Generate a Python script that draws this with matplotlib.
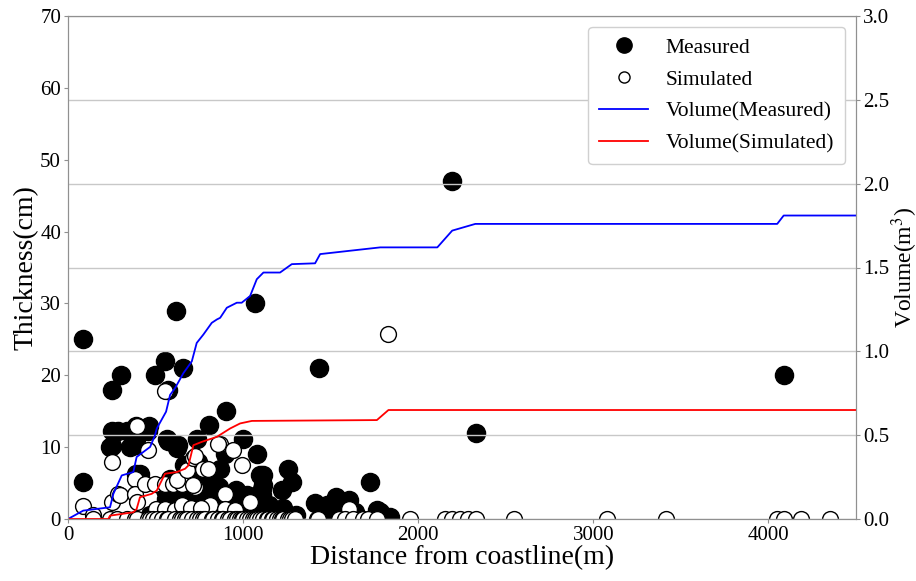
import matplotlib
matplotlib.use("Agg")
import matplotlib.pyplot as plt
from matplotlib.lines import Line2D
import numpy as np

plt.rcParams['font.family'] = ['Liberation Serif', 'DejaVu Serif']
plt.rcParams['mathtext.fontset'] = 'stix'

# measured thickness (distance m, thickness cm)
meas_x = [84, 84, 250, 303, 250, 288, 250, 240, 335, 392, 421, 459, 389, 465, 389, 389, 354,
          497, 554, 617, 659, 573, 1069, 1434, 2194, 2331, 4086, 903, 808, 567, 573, 621, 630,
          735, 897, 998, 1078, 411, 389, 554, 1116, 1116, 1107, 1259, 1278, 1221, 960, 1040,
          1021, 1411, 1531, 1602, 1516, 1640, 1722, 1764, 1836, 1783,
          700, 720, 740, 760, 780, 790, 810, 830, 850, 860, 880, 700, 760, 820, 680, 650, 600,
          560, 640, 520, 470, 1100, 1150, 1180, 950, 1000, 920, 1050, 1230, 1300, 1450, 1480,
          1097, 1110, 580, 660, 745, 775, 835, 870]
meas_y = [25, 5.2, 18, 20, 12.2, 12.2, 10.2, 10, 12.2, 12.2, 12.5, 12.2, 13, 12.9, 11.2, 10.3, 10,
          20, 22, 28.9, 21, 18, 30, 21, 47, 12, 20, 15, 13.1, 11.2, 10.8, 9.9, 10.3,
          11.2, 9, 11.2, 9.1, 6.3, 6.2, 4, 6.1, 4.7, 3.3, 6.9, 5.1, 4, 4, 3.1,
          3.3, 2.2, 3.1, 2.6, 1.2, 1, 5.1, 1.2, 0.3, 1.0,
          3, 1.5, 4.5, 2.5, 5.5, 1, 3.5, 6, 2, 4.5, 1, 5.5, 0.5, 0.5, 2, 3.5, 1.5,
          2.8, 0.8, 1, 0.5, 1.5, 2, 1, 1, 1.8, 2.5, 0.8, 1.5, 0.5, 0.5, 2,
          6.1, 4.2, 5.5, 7.5, 8, 3, 4, 7]

# simulated thickness above zero
sim_x = [84, 141, 250, 250, 288, 297, 383, 392, 383, 392, 459, 440, 497, 554, 602, 650, 556, 1829,
         621, 678, 716, 726, 773, 802, 726, 716, 869, 859, 945, 992, 897, 1040, 811, 897, 954,
         1602, 500, 554, 611, 650, 700, 760]
sim_y = [1.8, 0.6, 8, 2.4, 3.5, 3.3, 5.6, 13, 3.5, 2.4, 9.6, 4.9, 4.9, 4.9, 4.9, 4.9, 17.8, 25.8,
         5.4, 6.8, 8.5, 8.7, 7, 7, 4.5, 4.7, 10.5, 10.5, 9.6, 7.5, 3.5, 2.4, 1.9, 1.4, 1.2,
         1.4, 1.4, 1.4, 1.2, 2, 1.5, 1.5]
# simulated points with zero thickness
sim_zero_x = [141, 240, 278, 335, 383, 394, 457, 469, 488, 507, 535, 566, 573, 611, 640, 650, 669,
              680, 707, 737, 754, 773, 783, 821, 829, 857, 878, 886, 914, 926, 954, 964, 983, 994,
              1002, 1021, 1040, 1057, 1069, 1080, 1097, 1114, 1135, 1143, 1164, 1171, 1193, 1211,
              1221, 1229, 1259, 1269, 1278, 1297, 1421, 1430, 1545, 1583, 1630, 1687, 1716, 1764,
              1954, 2154, 2193, 2240, 2287, 2331, 2545, 3078, 3417, 4050, 4091, 4187, 4354]

# cumulative volume (m3)
volm_x = [0, 87, 240, 259, 307, 373, 392, 469, 497, 507, 560, 583, 611, 659, 707, 735, 773, 821,
          850, 869, 907, 964, 992, 1040, 1078, 1116, 1211, 1278, 1411, 1440, 1526, 1611, 1783,
          2109, 2194, 2326, 4050, 4087, 4500]
volm_y = [0, 0.05, 0.07, 0.15, 0.26, 0.28, 0.37, 0.43, 0.50, 0.54, 0.64, 0.74, 0.78, 0.87, 0.94,
          1.05, 1.10, 1.17, 1.19, 1.20, 1.26, 1.29, 1.29, 1.33, 1.43, 1.47, 1.47, 1.52, 1.525,
          1.58, 1.59, 1.60, 1.62, 1.62, 1.72, 1.76, 1.76, 1.81, 1.81]
vols_x = [0, 230, 240, 373, 392, 411, 478, 507, 554, 621, 669, 688, 716, 764, 850, 926, 983,
          1050, 1764, 1830, 4500]
vols_y = [0, 0.0, 0.02, 0.04, 0.06, 0.13, 0.15, 0.17, 0.27, 0.28, 0.30, 0.32, 0.44, 0.46, 0.49,
          0.54, 0.57, 0.585, 0.59, 0.65, 0.65]

fig = plt.figure(figsize=(9.16, 5.81), dpi=100)
ax = fig.add_axes([68 / 916, 62 / 581, 788 / 916, 503 / 581])
ax2 = ax.twinx()

ax.scatter(meas_x, meas_y, s=170, c='black', edgecolors='black', linewidths=1, zorder=2)
ax.scatter(sim_x, sim_y, s=130, c='white', edgecolors='black', linewidths=1, zorder=3)
ax.scatter(sim_zero_x, np.zeros(len(sim_zero_x)), s=130, c='white', edgecolors='black',
           linewidths=1, zorder=3)

ax2.plot(volm_x, volm_y, color='blue', lw=1.3)
ax2.plot(vols_x, vols_y, color='red', lw=1.3)

ax.set_xlim(0, 4500)
ax.set_ylim(0, 70)
ax2.set_ylim(0, 3.0)
ax.set_xticks([0, 1000, 2000, 3000, 4000])
ax.set_yticks(range(0, 71, 10))
ax2.set_yticks(np.arange(0, 3.01, 0.5))
ax2.set_yticklabels(['%.1f' % v for v in np.arange(0, 3.01, 0.5)])
ax2.grid(axis='y', color='#c8c8c8', lw=1)
ax2.set_axisbelow(True)

for a in (ax, ax2):
    for sp in a.spines.values():
        sp.set_color('#909090')
    a.tick_params(labelsize=15, length=3, color='#909090', pad=2)

ax.set_xlabel('Distance from coastline(m)', fontsize=20, labelpad=0)
ax.set_ylabel('Thickness(cm)', fontsize=20, labelpad=1)
ax2.set_ylabel('Volume(m$^3$)', fontsize=17, labelpad=0)

handles = [
    Line2D([], [], ls='none', marker='o', ms=11, mfc='black', mec='black'),
    Line2D([], [], ls='none', marker='o', ms=8, mfc='white', mec='black'),
    Line2D([], [], color='blue', lw=1.3),
    Line2D([], [], color='red', lw=1.3),
]
labels = ['Measured', 'Simulated', 'Volume(Measured)', 'Volume(Simulated)']
leg = ax2.legend(handles, labels, loc='upper right', bbox_to_anchor=(0.986, 0.978),
                 borderaxespad=0, fontsize=15.5, handlelength=2.3, labelspacing=0.55,
                 borderpad=0.5, edgecolor='#d0d0d0', framealpha=1)

fig.savefig('out.png', dpi=100)
